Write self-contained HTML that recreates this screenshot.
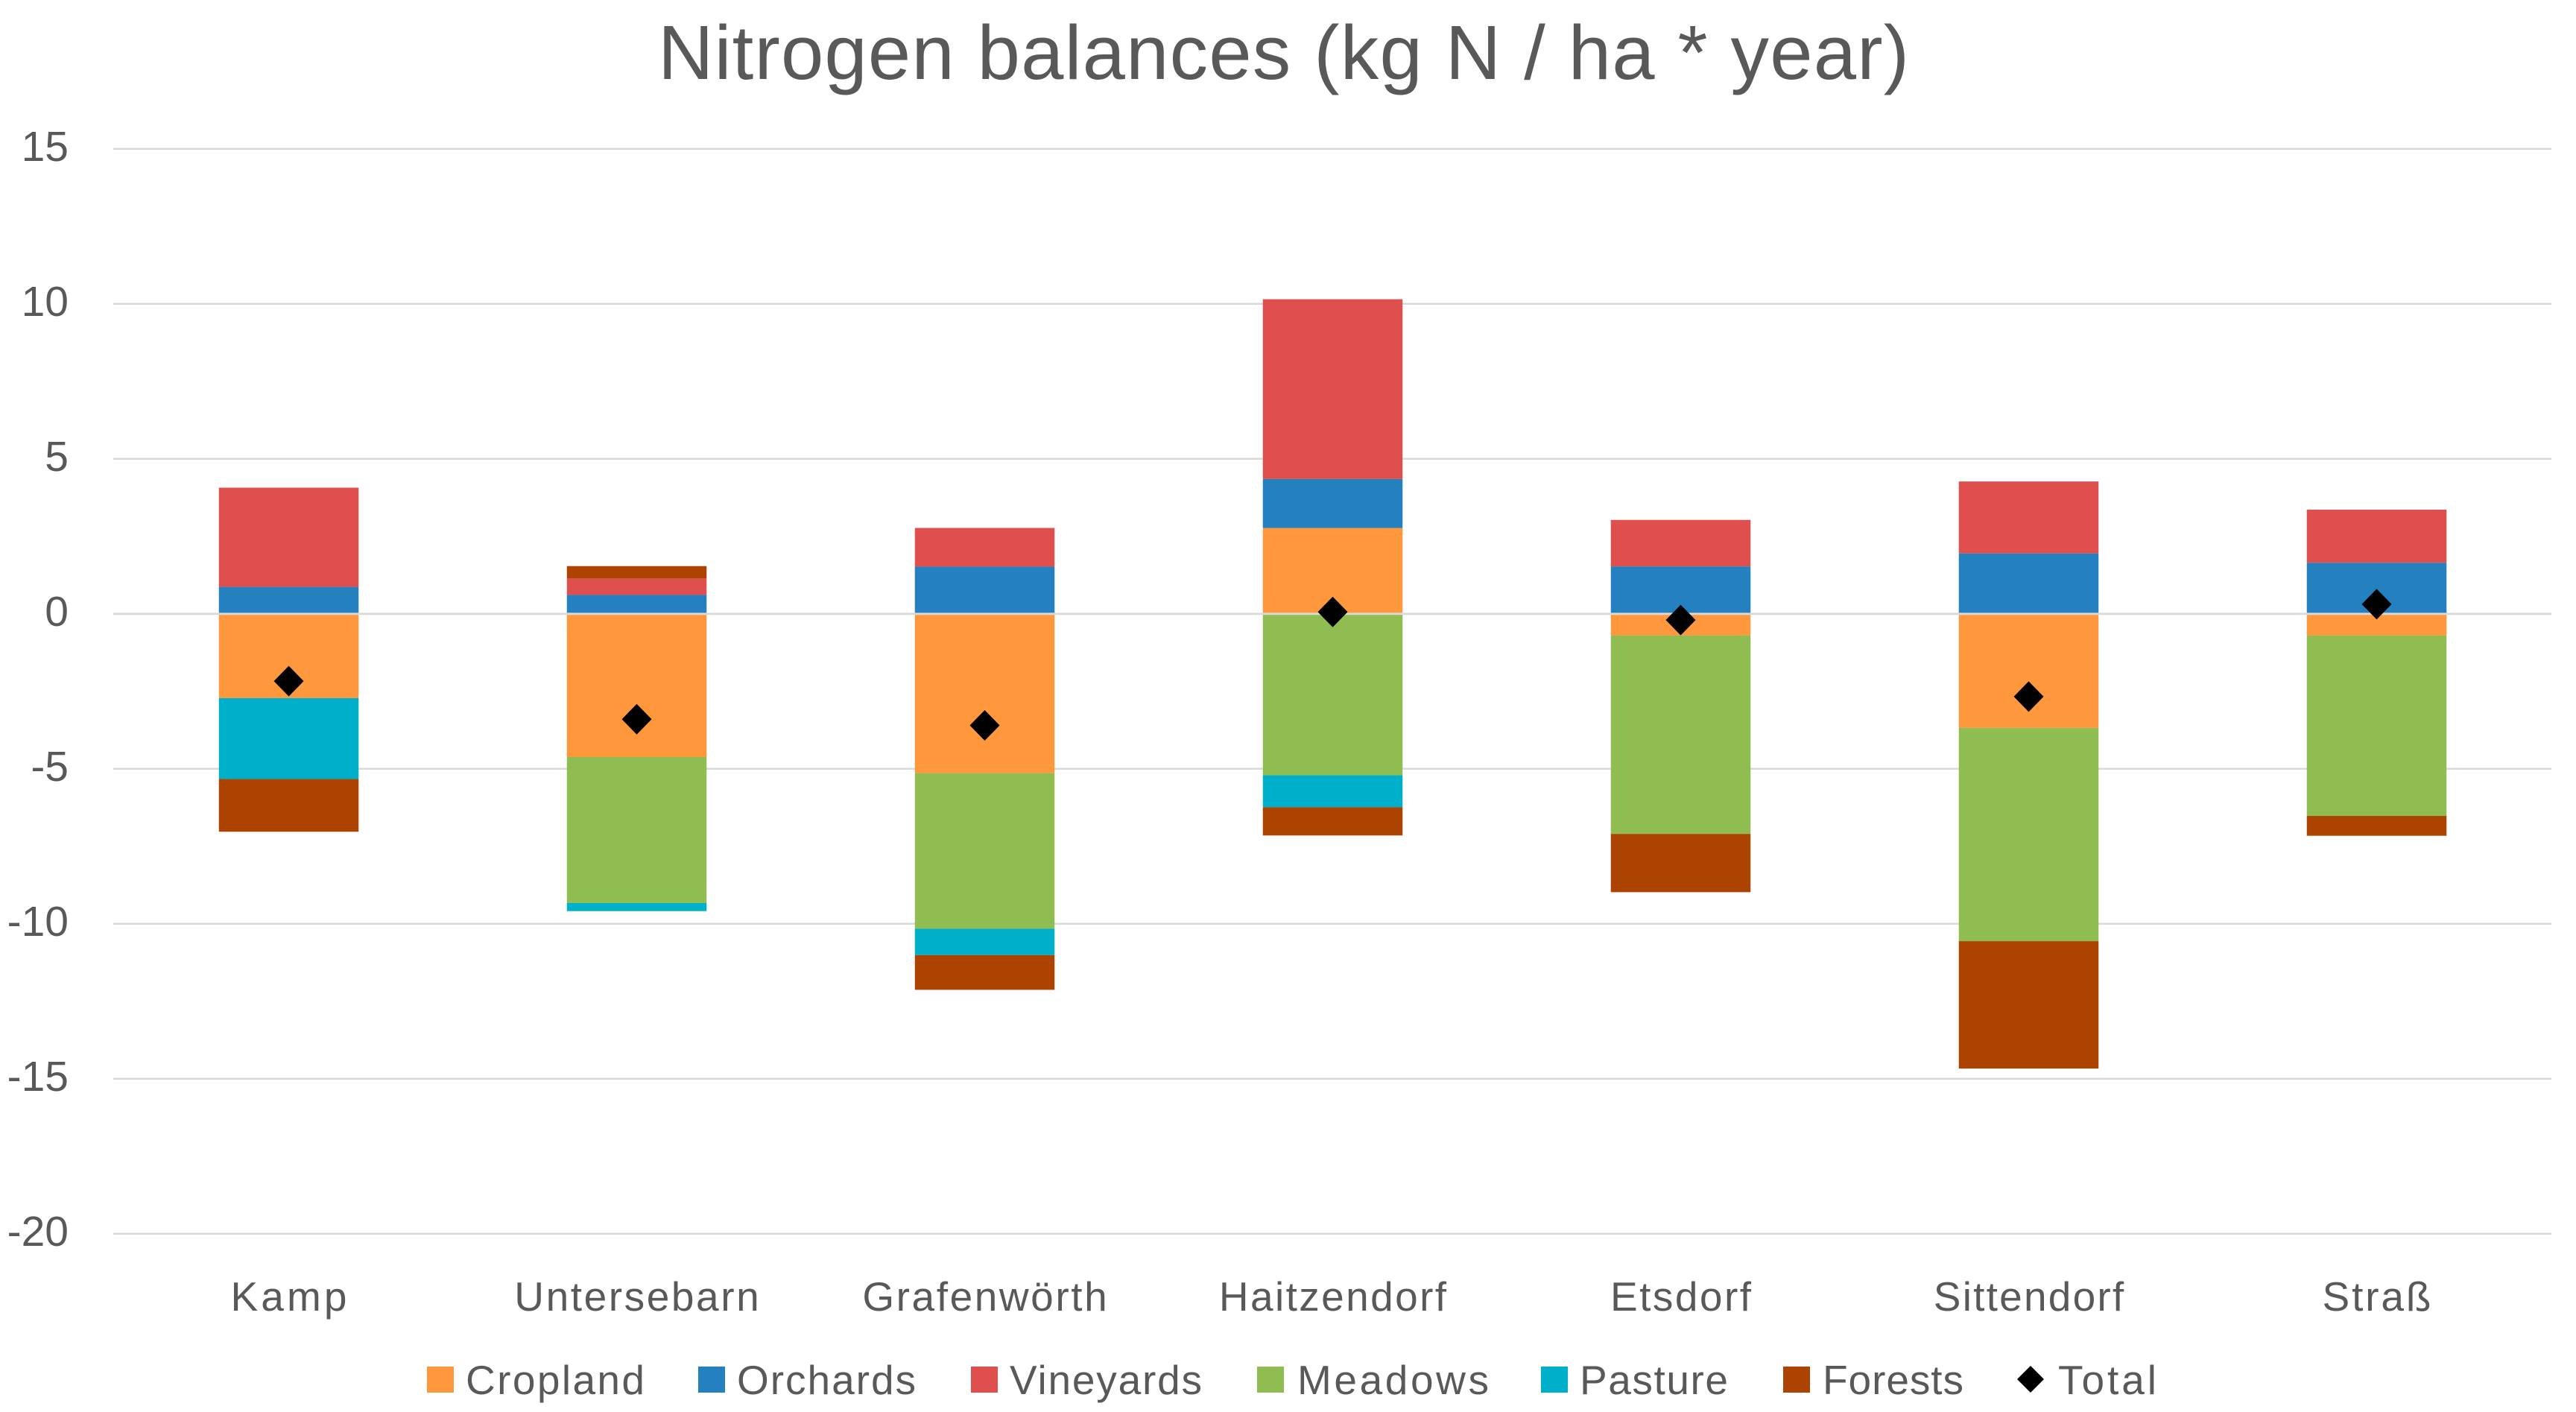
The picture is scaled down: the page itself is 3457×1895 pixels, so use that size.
<!DOCTYPE html>
<html lang="en">
<head>
<meta charset="utf-8">
<title>Nitrogen balances</title>
<style>
  html, body { margin: 0; padding: 0; background: #ffffff; }
  svg { display: block; }
  text { font-family: "Liberation Sans", sans-serif; fill: #595959; }
</style>
</head>
<body>
<svg id="chart" xmlns="http://www.w3.org/2000/svg" width="3457" height="1895" viewBox="0 0 3457 1895">
  <rect x="0" y="0" width="3457" height="1895" fill="#ffffff"></rect>
  <text x="883" y="106" font-size="103" textLength="1679" lengthAdjust="spacing">Nitrogen balances (kg N / ha * year)</text>

  <g id="grid-layer"></g>
  <g id="tick-layer"></g>
  <g id="bar-layer"></g>
  <g id="zero-layer"></g>
  <g id="marker-layer"></g>
  <g id="category-layer"></g>

  <g>
    <g>
      <rect x="573" y="1834" width="36" height="35" fill="#FF983C"></rect>
      <text x="625" y="1871" font-size="55" textLength="240" lengthAdjust="spacing">Cropland</text>
    </g>
    <g>
      <rect x="937" y="1834" width="36" height="35" fill="#2480BF"></rect>
      <text x="989" y="1871" font-size="55" textLength="240" lengthAdjust="spacing">Orchards</text>
    </g>
    <g>
      <rect x="1303" y="1834" width="36" height="35" fill="#DE4F4E"></rect>
      <text x="1355" y="1871" font-size="55" textLength="258" lengthAdjust="spacing">Vineyards</text>
    </g>
    <g>
      <rect x="1687" y="1834" width="36" height="35" fill="#8FBD52"></rect>
      <text x="1741" y="1871" font-size="55" textLength="257" lengthAdjust="spacing">Meadows</text>
    </g>
    <g>
      <rect x="2068" y="1834" width="36" height="35" fill="#00AFC9"></rect>
      <text x="2120" y="1871" font-size="55" textLength="199" lengthAdjust="spacing">Pasture</text>
    </g>
    <g>
      <rect x="2393" y="1834" width="36" height="35" fill="#AD4300"></rect>
      <text x="2446" y="1871" font-size="55" textLength="189" lengthAdjust="spacing">Forests</text>
    </g>
    <g>
      <polygon points="2725,1833 2743,1851 2725,1869 2707,1851" fill="#000000"></polygon>
      <text x="2762" y="1871" font-size="55" textLength="132" lengthAdjust="spacing">Total</text>
    </g>
  </g>
</svg>

<script>
const categories = ["Kamp", "Untersebarn", "Grafenwörth", "Haitzendorf", "Etsdorf", "Sittendorf", "Straß"];
const yTicks = [15, 10, 5, 0, -5, -10, -15, -20];
const cropland = [-2.72, -4.62, -5.14, 2.77, -0.70, -3.68, -0.70];
const orchards = [0.87, 0.61, 1.52, 1.58, 1.53, 1.95, 1.65];
const vineyards = [3.20, 0.53, 1.25, 5.80, 1.50, 2.32, 1.71];
const meadows = [0, -4.71, -5.02, -5.21, -6.40, -6.88, -5.82];
const pasture = [-2.61, -0.26, -0.85, -1.03, 0, 0, 0];
const forests = [-1.70, 0.40, -1.12, -0.91, -1.88, -4.11, -0.64];
const total = [-2.17, -3.40, -3.60, 0.06, -0.20, -2.67, 0.31];

const seriesNames = ["cropland", "orchards", "vineyards", "meadows", "pasture", "forests"];
const seriesValues = [cropland, orchards, vineyards, meadows, pasture, forests];
const seriesColors = ["#FF983C", "#2480BF", "#DE4F4E", "#8FBD52", "#00AFC9", "#AD4300"];

const SVG_NS = "http://www.w3.org/2000/svg";
const PLOT_LEFT = 154;
const BAND = 467;
const BAR_WIDTH = 187.5;
const ZERO_Y = 823.8;
const UNIT = 41.6;
const CATEGORY_RATIO = 1.085;

function xCenter(i) { return PLOT_LEFT + BAND * (i + 0.5); }
function yScale(v) { return ZERO_Y - v * UNIT; }
function make(parentId, tag, attrs) {
  const el = document.createElementNS(SVG_NS, tag);
  for (const key in attrs) { el.setAttribute(key, attrs[key]); }
  document.getElementById(parentId).appendChild(el);
  return el;
}
function slug(s) { return s.toLowerCase().replace("ö", "oe").replace("ß", "ss"); }

yTicks.forEach(function (tick) {
  if (tick !== 0) {
    const line = make("grid-layer", "line", { x1: 152, x2: 3424, y1: yScale(tick), y2: yScale(tick), stroke: "#d9d9d9", "stroke-width": 2.5 });
    
    
  }
  const label = make("tick-layer", "text", { x: 92, y: yScale(tick) + 16, "font-size": 57, "text-anchor": "end" });
  label.textContent = String(tick);
  
  
});

categories.forEach(function (category, i) {
  let positiveStack = 0;
  let negativeStack = 0;
  seriesValues.forEach(function (values, s) {
    const v = values[i];
    if (v === 0) { return; }
    const start = v > 0 ? positiveStack : negativeStack;
    const end = start + v;
    if (v > 0) { positiveStack = end; } else { negativeStack = end; }
    const bar = make("bar-layer", "rect", {
      x: xCenter(i) - BAR_WIDTH / 2,
      y: Math.min(yScale(start), yScale(end)),
      width: BAR_WIDTH,
      height: Math.abs(yScale(start) - yScale(end)),
      fill: seriesColors[s]
    });
    
    
  });

  const cx = xCenter(i);
  const cy = yScale(total[i]);
  const marker = make("marker-layer", "polygon", {
    points: cx + "," + (cy - 20.5) + " " + (cx + 20) + "," + cy + " " + cx + "," + (cy + 20.5) + " " + (cx - 20) + "," + cy,
    fill: "#000000"
  });
  
  

  const label = make("category-layer", "text", { x: cx, y: 1759, "font-size": 55, "text-anchor": "middle" });
  label.textContent = category;
  
  
  label.setAttribute("textLength", label.getComputedTextLength() * CATEGORY_RATIO);
  label.setAttribute("lengthAdjust", "spacing");
});

const zeroLine = make("zero-layer", "line", { x1: 152, x2: 3424, y1: yScale(0), y2: yScale(0), stroke: "#d9d9d9", "stroke-width": 2.8 });


</script>
</body>
</html>
